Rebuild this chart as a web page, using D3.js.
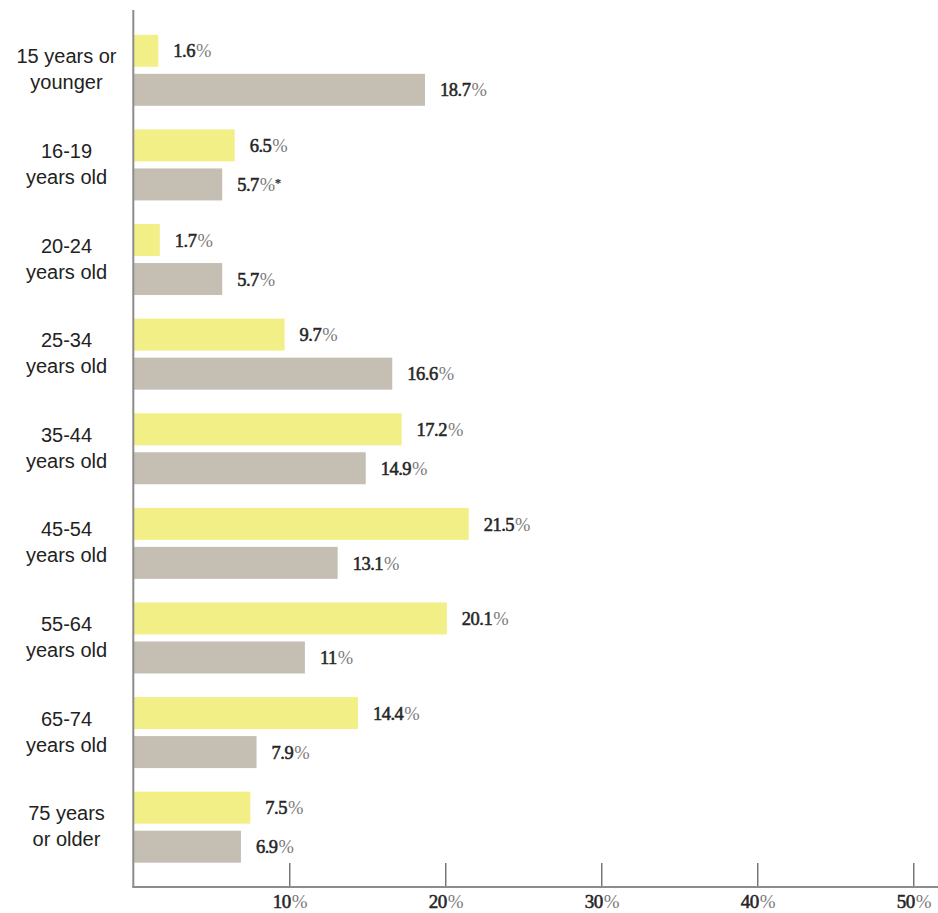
<!DOCTYPE html>
<html>
<head>
<meta charset="utf-8">
<script src="https://cdn.jsdelivr.net/npm/d3@7"></script>
<style>
  html, body { margin: 0; padding: 0; background: #ffffff; }
  svg { display: block; }
</style>
</head>
<body>
<svg id="chart" width="938" height="913"></svg>
<script>
// Age groups, each drawn as a two-line label
const ageGroups = [
  ["15 years or", "younger"],
  ["16-19", "years old"],
  ["20-24", "years old"],
  ["25-34", "years old"],
  ["35-44", "years old"],
  ["45-54", "years old"],
  ["55-64", "years old"],
  ["65-74", "years old"],
  ["75 years", "or older"]
];

// Share (%) for each age group, two series
const primaryShare    = [1.6, 6.5, 1.7, 9.7, 17.2, 21.5, 20.1, 14.4, 7.5];
const comparisonShare = [18.7, 5.7, 5.7, 16.6, 14.9, 13.1, 11, 7.9, 6.9];
// Footnote marks appended to comparison labels
const comparisonNotes = ["", "*", "", "", "", "", "", "", ""];

const tickValues = [10, 20, 30, 40, 50];

const seriesKeys = ["primary", "comparison"];
const seriesColors = { primary: "#f2ef87", comparison: "#c5beb3" };

const W = 938, H = 913;
const svg = d3.select("#chart");

const x = d3.scaleLinear().domain([0, 50]).range([133.3, 913.3]);
const y = d3.scaleBand().domain(d3.range(ageGroups.length)).range([23, 874.5]);
const groupSpan = 71;
const ySeries = d3.scaleBand()
  .domain(seriesKeys)
  .range([(y.step() - groupSpan) / 2, (y.step() + groupSpan) / 2])
  .paddingInner(0.18);

const rows = ageGroups.map((g, i) => ({
  i,
  lines: g,
  values: [
    { key: "primary", v: primaryShare[i], note: "" },
    { key: "comparison", v: comparisonShare[i], note: comparisonNotes[i] }
  ]
}));

const groups = svg.append("g").selectAll("g.group")
  .data(rows)
  .join("g")
  .attr("class", "group")
  .attr("transform", d => `translate(0,${y(d.i)})`);

// bars
groups.selectAll("rect")
  .data(d => d.values)
  .join("rect")
  .attr("x", x(0))
  .attr("y", d => ySeries(d.key))
  .attr("width", d => x(d.v) - x(0))
  .attr("height", ySeries.bandwidth())
  .attr("fill", d => seriesColors[d.key]);

// value labels: medium-weight figures, light percent sign
const serif = "'Liberation Serif', 'DejaVu Serif', serif";
const ink = "#262626";
const labels = groups.selectAll("text.value")
  .data(d => d.values)
  .join("text")
  .attr("class", "value")
  .attr("x", d => x(d.v) + 15)
  .attr("y", d => ySeries(d.key) + ySeries.bandwidth() / 2)
  .attr("dy", "0.36em")
  .style("font-family", serif)
  .style("font-size", "18.5px")
  .attr("fill", ink);
labels.append("tspan")
  .attr("stroke", ink)
  .attr("stroke-width", 0.55)
  .style("letter-spacing", "-0.5px")
  .text(d => String(d.v));
labels.append("tspan")
  .attr("dx", 1)
  .attr("fill", "#7c7c7c")
  .style("letter-spacing", "-0.5px")
  .text("%");
labels.filter(d => d.note).append("tspan")
  .attr("dy", "-0.3em")
  .style("font-size", "13px")
  .style("font-weight", "bold")
  .text(d => d.note);

// category labels
const cx = 66.5;
const catText = groups.append("text")
  .attr("text-anchor", "middle")
  .style("font-family", "'Liberation Sans', Arial, sans-serif")
  .style("font-size", "20px")
  .attr("fill", "#222");
catText.selectAll("tspan")
  .data(d => d.lines)
  .join("tspan")
  .attr("x", cx)
  .attr("y", (d, j) => y.bandwidth() / 2 - 7 + j * 26)
  .text(d => d);

// vertical axis line
svg.append("line")
  .attr("x1", x(0)).attr("x2", x(0))
  .attr("y1", 10).attr("y2", 887)
  .attr("stroke", "#8c8c8c")
  .attr("stroke-width", 2);

// bottom axis: ticks rise from the baseline, labels sit below it
const axisY = 887;
const xAxis = d3.axisBottom(x)
  .tickValues(tickValues)
  .tickSizeInner(-24)
  .tickSizeOuter(0)
  .tickPadding(8)
  .tickFormat(d => d);

const ax = svg.append("g")
  .attr("transform", `translate(0,${axisY})`)
  .call(xAxis);
ax.select(".domain").remove();
ax.selectAll(".tick line").attr("stroke", "#555").attr("stroke-width", 1.2);
const tickText = ax.selectAll(".tick text")
  .attr("fill", ink)
  .attr("stroke", ink)
  .attr("stroke-width", 0.55)
  .style("font-family", serif)
  .style("font-size", "19px")
  .style("letter-spacing", "-0.5px");
tickText.append("tspan")
  .attr("dx", 1)
  .attr("fill", "#7c7c7c")
  .attr("stroke", "none")
  .text("%");

svg.append("line")
  .attr("x1", x(0) - 1).attr("x2", W)
  .attr("y1", axisY).attr("y2", axisY)
  .attr("stroke", "#8c8c8c")
  .attr("stroke-width", 2);
</script>
</body>
</html>
